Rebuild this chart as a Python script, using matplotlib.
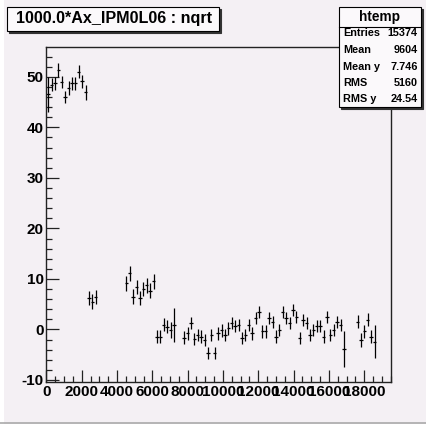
import numpy as np
import matplotlib.pyplot as plt
from matplotlib.patches import Rectangle
from matplotlib.ticker import MultipleLocator

plt.rcParams['font.family'] = ['Liberation Sans', 'DejaVu Sans']
plt.rcParams['font.weight'] = 'bold'
plt.rcParams['axes.unicode_minus'] = False

W, H = 427, 424
bg = '#f4f0f4'

# profile bins (bin centres), mean values and errors
bin_w = 192.6
x = [96, 289, 482, 674, 867, 1059, 1252, 1444, 1637, 1830, 2022, 2215,
     2407, 2600, 2793,
     4526, 4719, 4911, 5104, 5297, 5489, 5682, 5874, 6067,
     6260, 6452, 6645, 6837, 7030, 7222,
     7800, 7993, 8185, 8378, 8570, 8763, 8956, 9148, 9341, 9533,
     9726, 9919, 10111, 10304, 10496, 10689, 10882, 11074, 11267, 11459,
     11652, 11845, 12037, 12230, 12422, 12615, 12808, 13000, 13193, 13385,
     13578, 13771, 13963, 14156, 14348, 14541, 14734, 14926, 15119, 15311,
     15504, 15697, 15889, 16082, 16274, 16467, 16660, 16852,
     17622, 17815, 18008, 18200, 18393, 18585]
y = [46.5, 48.4, 48.7, 51.4, 49.0, 46.0, 47.8, 48.7, 48.7, 51.0, 49.1, 46.9,
     6.2, 5.5, 6.5,
     9.1, 11.1, 6.5, 8.4, 6.2, 8.0, 8.7, 7.7, 9.5,
     -1.4, -1.4, 0.9, 0.5, -0.1, 0.9,
     -1.6, -0.8, 1.3, -1.9, -1.1, -1.4, -2.1, -4.7, -1.1, -4.7,
     -0.8, -0.2, -1.1, 0.2, 1.2, 0.6, 0.9, -1.7, -1.1, 0.9,
     -0.8, 2.2, 3.5, -0.4, -0.4, 2.2, 1.5, -1.4, -0.1, 3.5,
     2.2, 1.2, 3.9, 2.5, -1.7, 1.9, 1.2, -1.1, -0.1, 0.6,
     0.6, -1.4, 2.5, -1.1, -0.1, 1.5, 0.9, -3.9,
     1.5, -2.1, -0.4, 1.9, -1.4, -2.4]
yerr = [3.5, 1.3, 1.3, 1.4, 1.2, 1.2, 1.4, 1.3, 1.3, 1.3, 1.3, 1.4,
        1.4, 1.5, 1.4,
        1.5, 1.5, 1.5, 1.4, 1.4, 1.4, 1.4, 1.4, 1.5,
        1.3, 1.3, 1.3, 1.3, 1.6, 3.3,
        1.2, 1.2, 1.2, 1.2, 1.2, 1.2, 1.2, 1.2, 1.2, 1.2,
        1.2, 1.2, 1.2, 1.2, 1.2, 1.2, 1.2, 1.2, 1.2, 1.2,
        1.2, 1.2, 1.2, 1.2, 1.2, 1.2, 1.2, 1.2, 1.2, 1.2,
        1.2, 1.2, 1.2, 1.2, 1.2, 1.2, 1.2, 1.2, 1.2, 1.2,
        1.2, 1.2, 1.2, 1.2, 1.2, 1.2, 1.2, 3.6,
        1.3, 1.3, 1.3, 1.3, 1.3, 3.2]

title = '1000.0*Ax_IPM0L06 : nqrt'
stat_names = ['Entries', 'Mean', 'Mean y', 'RMS', 'RMS y']
stat_vals = ['15374', '9604', '7.746', '5160', '24.54']


def fx(px):
    return px / W


def fy(py):
    return 1 - py / H


def box(x0, y0, x1, y1, fc, ec='black', lw=0.8, z=5):
    r = Rectangle((fx(x0), fy(y1)), fx(x1) - fx(x0), fy(y0) - fy(y1),
                  transform=fig.transFigure, facecolor=fc, edgecolor=ec,
                  linewidth=lw, zorder=z)
    fig.add_artist(r)


fig = plt.figure(figsize=(W / 100, H / 100), dpi=100, facecolor=bg)
ax = fig.add_axes([fx(46.4), fy(382), fx(390.7) - fx(46.4), fy(47) - fy(382)])
ax.set_facecolor(bg)

ax.errorbar(x, y, yerr=yerr, xerr=bin_w / 2, fmt='none', ecolor='black',
            elinewidth=0.9, capsize=0)

ax.set_xlim(0, 19500)
ax.set_ylim(-10.4, 55.9)
ax.xaxis.set_major_locator(MultipleLocator(2000))
ax.xaxis.set_minor_locator(MultipleLocator(500))
ax.yaxis.set_major_locator(MultipleLocator(10))
ax.yaxis.set_minor_locator(MultipleLocator(2))
ax.tick_params(which='both', direction='in', top=False, right=False,
               labelsize=11, width=0.9, color='#222222')
ax.tick_params(which='major', length=9, pad=2)
ax.tick_params(which='minor', length=4.5)
for lab in ax.get_xticklabels() + ax.get_yticklabels():
    lab.set_fontweight('bold')
for sp in ax.spines.values():
    sp.set_color('#222222')
    sp.set_linewidth(1.0)

# title pave with shadow
box(9, 9, 221, 33, '#333333', ec='#333333')
box(7, 7, 219, 31, '#fbf9fb')
fig.text(fx(114), fy(19), title, ha='center', va='center', fontsize=11.6,
         fontweight='bold', zorder=6)

# statistics pave
box(341, 9, 423, 109, '#333333', ec='#333333')
box(339, 7, 421, 107, '#fbf9fb')
fig.add_artist(plt.Line2D([fx(339), fx(421)], [fy(27), fy(27)],
                          transform=fig.transFigure, color='black', lw=0.8,
                          zorder=6))
fig.text(fx(380), fy(16.5), 'htemp', ha='center', va='center', fontsize=9.8,
         fontweight='bold', zorder=6)
for i, (n, v) in enumerate(zip(stat_names, stat_vals)):
    yy = 33.5 + i * 16.5
    fig.text(fx(343), fy(yy), n, ha='left', va='center', fontsize=7.8,
             fontweight='bold', zorder=6)
    fig.text(fx(418), fy(yy), v, ha='right', va='center', fontsize=7.8,
             fontweight='bold', zorder=6)

# canvas border
fig.add_artist(plt.Line2D([0, 1], [fy(423), fy(423)], transform=fig.transFigure,
                          color='#aaaaaa', lw=1.2))
fig.add_artist(Rectangle((0, 0), fx(4), 1, transform=fig.transFigure,
                         facecolor='white', edgecolor='none', zorder=0))

fig.savefig('out.png', dpi=100, facecolor=bg)
